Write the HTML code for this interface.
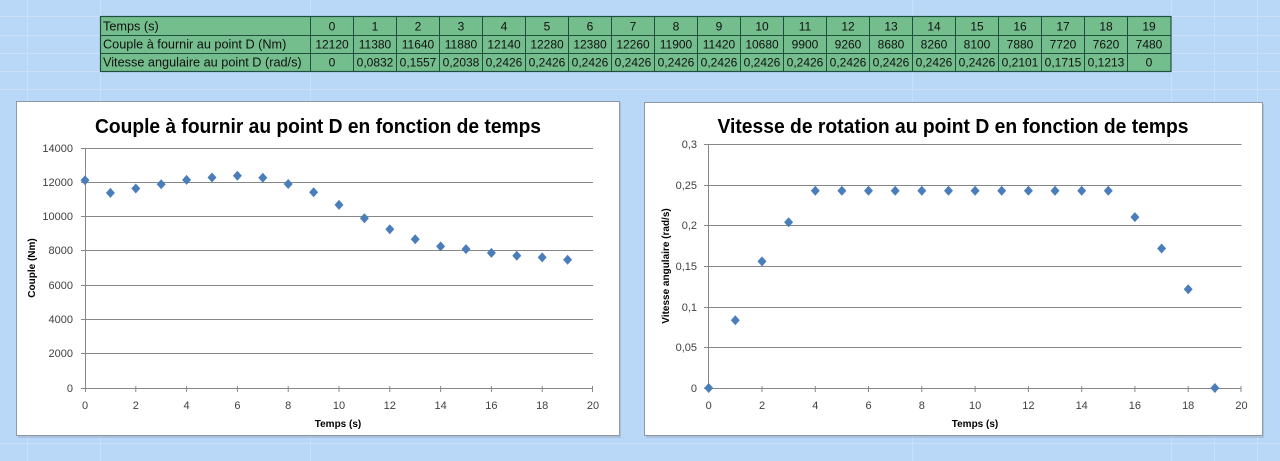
<!DOCTYPE html>
<html><head><meta charset="utf-8">
<style>
html,body{margin:0;padding:0;background:#b9d7f7;}
svg{display:block;}
text{font-family:"Liberation Sans",sans-serif;}
</style></head>
<body>
<svg width="1280" height="461" viewBox="0 0 1280 461" xmlns="http://www.w3.org/2000/svg">
<rect x="0" y="0" width="1280" height="461" fill="#b9d7f7"/>
<!-- background sheet grid -->
<g stroke="#c9e0f8" stroke-width="1">
<line x1="27.5" y1="0" x2="27.5" y2="461"/><line x1="100.5" y1="0" x2="100.5" y2="461"/>
<line x1="310.5" y1="0" x2="310.5" y2="461"/><line x1="912.5" y1="0" x2="912.5" y2="461"/>
<line x1="1171.5" y1="0" x2="1171.5" y2="461"/><line x1="1214.5" y1="0" x2="1214.5" y2="461"/><line x1="1257.5" y1="0" x2="1257.5" y2="461"/>
<line x1="0" y1="-0.5" x2="1280" y2="-0.5"/><line x1="0" y1="16.5" x2="1280" y2="16.5"/>
<line x1="0" y1="35.5" x2="1280" y2="35.5"/><line x1="0" y1="53.5" x2="1280" y2="53.5"/>
<line x1="0" y1="71.5" x2="1280" y2="71.5"/><line x1="0" y1="89.5" x2="1280" y2="89.5"/>
<line x1="0" y1="443.5" x2="1280" y2="443.5"/>
</g>

<!-- table -->
<rect x="100.5" y="16.5" width="1070.5" height="55" fill="#74bd8d" stroke="#1f4f3f" stroke-width="1.2"/>
<g stroke="#1f4f3f" stroke-width="1">
<line x1="100.5" y1="35.5" x2="1171" y2="35.5"/>
<line x1="100.5" y1="53.5" x2="1171" y2="53.5"/>
<line x1="310.5" y1="16.5" x2="310.5" y2="71.5"/>
<line x1="353.5" y1="16.5" x2="353.5" y2="71.5"/>
<line x1="396.5" y1="16.5" x2="396.5" y2="71.5"/>
<line x1="439.5" y1="16.5" x2="439.5" y2="71.5"/>
<line x1="482.5" y1="16.5" x2="482.5" y2="71.5"/>
<line x1="525.5" y1="16.5" x2="525.5" y2="71.5"/>
<line x1="568.5" y1="16.5" x2="568.5" y2="71.5"/>
<line x1="611.5" y1="16.5" x2="611.5" y2="71.5"/>
<line x1="654.5" y1="16.5" x2="654.5" y2="71.5"/>
<line x1="697.5" y1="16.5" x2="697.5" y2="71.5"/>
<line x1="740.5" y1="16.5" x2="740.5" y2="71.5"/>
<line x1="783.5" y1="16.5" x2="783.5" y2="71.5"/>
<line x1="826.5" y1="16.5" x2="826.5" y2="71.5"/>
<line x1="869.5" y1="16.5" x2="869.5" y2="71.5"/>
<line x1="912.5" y1="16.5" x2="912.5" y2="71.5"/>
<line x1="955.5" y1="16.5" x2="955.5" y2="71.5"/>
<line x1="998.5" y1="16.5" x2="998.5" y2="71.5"/>
<line x1="1041.5" y1="16.5" x2="1041.5" y2="71.5"/>
<line x1="1084.5" y1="16.5" x2="1084.5" y2="71.5"/>
<line x1="1127.5" y1="16.5" x2="1127.5" y2="71.5"/>
</g>
<g font-size="12.7" fill="#111">
<text x="103" y="30.5">Temps (s)</text>
<text x="103" y="48.5">Couple à fournir au point D (Nm)</text>
<text x="103" y="66.5">Vitesse angulaire au point D (rad/s)</text>
</g>
<g font-size="12" fill="#111" text-anchor="middle">
<text x="332" y="30.5">0</text><text x="375" y="30.5">1</text><text x="418" y="30.5">2</text><text x="461" y="30.5">3</text><text x="504" y="30.5">4</text><text x="547" y="30.5">5</text><text x="590" y="30.5">6</text><text x="633" y="30.5">7</text><text x="676" y="30.5">8</text><text x="719" y="30.5">9</text><text x="762" y="30.5">10</text><text x="805" y="30.5">11</text><text x="848" y="30.5">12</text><text x="891" y="30.5">13</text><text x="934" y="30.5">14</text><text x="977" y="30.5">15</text><text x="1020" y="30.5">16</text><text x="1063" y="30.5">17</text><text x="1106" y="30.5">18</text><text x="1149" y="30.5">19</text>
<text x="332" y="48.5">12120</text><text x="375" y="48.5">11380</text><text x="418" y="48.5">11640</text><text x="461" y="48.5">11880</text><text x="504" y="48.5">12140</text><text x="547" y="48.5">12280</text><text x="590" y="48.5">12380</text><text x="633" y="48.5">12260</text><text x="676" y="48.5">11900</text><text x="719" y="48.5">11420</text><text x="762" y="48.5">10680</text><text x="805" y="48.5">9900</text><text x="848" y="48.5">9260</text><text x="891" y="48.5">8680</text><text x="934" y="48.5">8260</text><text x="977" y="48.5">8100</text><text x="1020" y="48.5">7880</text><text x="1063" y="48.5">7720</text><text x="1106" y="48.5">7620</text><text x="1149" y="48.5">7480</text>
<text x="332" y="66.5">0</text><text x="375" y="66.5">0,0832</text><text x="418" y="66.5">0,1557</text><text x="461" y="66.5">0,2038</text><text x="504" y="66.5">0,2426</text><text x="547" y="66.5">0,2426</text><text x="590" y="66.5">0,2426</text><text x="633" y="66.5">0,2426</text><text x="676" y="66.5">0,2426</text><text x="719" y="66.5">0,2426</text><text x="762" y="66.5">0,2426</text><text x="805" y="66.5">0,2426</text><text x="848" y="66.5">0,2426</text><text x="891" y="66.5">0,2426</text><text x="934" y="66.5">0,2426</text><text x="977" y="66.5">0,2426</text><text x="1020" y="66.5">0,2101</text><text x="1063" y="66.5">0,1715</text><text x="1106" y="66.5">0,1213</text><text x="1149" y="66.5">0</text>
</g>

<!-- LEFT CHART -->
<rect x="18" y="103" width="603" height="335" fill="#9fb3c8" opacity="0.6"/>
<rect x="16.5" y="101.5" width="603" height="334" fill="#ffffff" stroke="#8d98a6" stroke-width="1"/>
<text x="318" y="133" font-size="20" font-weight="bold" fill="#000" text-anchor="middle" textLength="446" lengthAdjust="spacingAndGlyphs">Couple à fournir au point D en fonction de temps</text>
<g stroke="#878787" stroke-width="1">
<line x1="85" y1="148.5" x2="593" y2="148.5"/>
<line x1="85" y1="182.5" x2="593" y2="182.5"/>
<line x1="85" y1="216.5" x2="593" y2="216.5"/>
<line x1="85" y1="250.5" x2="593" y2="250.5"/>
<line x1="85" y1="285.5" x2="593" y2="285.5"/>
<line x1="85" y1="319.5" x2="593" y2="319.5"/>
<line x1="85" y1="353.5" x2="593" y2="353.5"/>
<line x1="85" y1="388.5" x2="593" y2="388.5"/>
<line x1="85.5" y1="148" x2="85.5" y2="388"/>
<line x1="81" y1="148.5" x2="85" y2="148.5"/><line x1="81" y1="182.5" x2="85" y2="182.5"/><line x1="81" y1="216.5" x2="85" y2="216.5"/><line x1="81" y1="250.5" x2="85" y2="250.5"/><line x1="81" y1="285.5" x2="85" y2="285.5"/><line x1="81" y1="319.5" x2="85" y2="319.5"/><line x1="81" y1="353.5" x2="85" y2="353.5"/><line x1="81" y1="388.5" x2="85" y2="388.5"/>
<line x1="85.5" y1="386" x2="85.5" y2="392"/><line x1="135.8" y1="386" x2="135.8" y2="392"/><line x1="186.6" y1="386" x2="186.6" y2="392"/><line x1="237.4" y1="386" x2="237.4" y2="392"/><line x1="288.2" y1="386" x2="288.2" y2="392"/><line x1="339" y1="386" x2="339" y2="392"/><line x1="389.8" y1="386" x2="389.8" y2="392"/><line x1="440.6" y1="386" x2="440.6" y2="392"/><line x1="491.4" y1="386" x2="491.4" y2="392"/><line x1="542.2" y1="386" x2="542.2" y2="392"/><line x1="592.5" y1="386" x2="592.5" y2="392"/>
</g>
<g font-size="11" fill="#404040" text-anchor="end">
<text x="73" y="152">14000</text><text x="73" y="186">12000</text><text x="73" y="220">10000</text><text x="73" y="254">8000</text><text x="73" y="289">6000</text><text x="73" y="323">4000</text><text x="73" y="357">2000</text><text x="73" y="392">0</text>
</g>
<g font-size="11" fill="#404040" text-anchor="middle">
<text x="85" y="409">0</text><text x="135.8" y="409">2</text><text x="186.6" y="409">4</text><text x="237.4" y="409">6</text><text x="288.2" y="409">8</text><text x="339" y="409">10</text><text x="389.8" y="409">12</text><text x="440.6" y="409">14</text><text x="491.4" y="409">16</text><text x="542.2" y="409">18</text><text x="593" y="409">20</text>
</g>
<text x="338" y="427" font-size="10" font-weight="bold" fill="#000" text-anchor="middle">Temps (s)</text>
<text transform="translate(35,268) rotate(-90)" font-size="10" font-weight="bold" fill="#000" text-anchor="middle">Couple (Nm)</text>
<g fill="#4a7ebb">
<path d="M85 175.2l4.5 5 -4.5 5 -4.5 -5z"/>
<path d="M110.4 187.9l4.5 5 -4.5 5 -4.5 -5z"/>
<path d="M135.8 183.5l4.5 5 -4.5 5 -4.5 -5z"/>
<path d="M161.2 179.3l4.5 5 -4.5 5 -4.5 -5z"/>
<path d="M186.6 174.9l4.5 5 -4.5 5 -4.5 -5z"/>
<path d="M212 172.5l4.5 5 -4.5 5 -4.5 -5z"/>
<path d="M237.4 170.8l4.5 5 -4.5 5 -4.5 -5z"/>
<path d="M262.8 172.8l4.5 5 -4.5 5 -4.5 -5z"/>
<path d="M288.2 179l4.5 5 -4.5 5 -4.5 -5z"/>
<path d="M313.6 187.2l4.5 5 -4.5 5 -4.5 -5z"/>
<path d="M339 199.9l4.5 5 -4.5 5 -4.5 -5z"/>
<path d="M364.4 213.3l4.5 5 -4.5 5 -4.5 -5z"/>
<path d="M389.8 224.3l4.5 5 -4.5 5 -4.5 -5z"/>
<path d="M415.2 234.2l4.5 5 -4.5 5 -4.5 -5z"/>
<path d="M440.6 241.4l4.5 5 -4.5 5 -4.5 -5z"/>
<path d="M466 244.1l4.5 5 -4.5 5 -4.5 -5z"/>
<path d="M491.4 247.9l4.5 5 -4.5 5 -4.5 -5z"/>
<path d="M516.8 250.7l4.5 5 -4.5 5 -4.5 -5z"/>
<path d="M542.2 252.4l4.5 5 -4.5 5 -4.5 -5z"/>
<path d="M567.6 254.8l4.5 5 -4.5 5 -4.5 -5z"/>
</g>

<!-- RIGHT CHART -->
<rect x="646" y="104" width="618" height="334" fill="#9fb3c8" opacity="0.6"/>
<rect x="644.5" y="102.5" width="618" height="333" fill="#ffffff" stroke="#8d98a6" stroke-width="1"/>
<text x="953" y="133" font-size="20" font-weight="bold" fill="#000" text-anchor="middle" textLength="471" lengthAdjust="spacingAndGlyphs">Vitesse de rotation au point D en fonction de temps</text>
<g stroke="#878787" stroke-width="1">
<line x1="708.7" y1="144.5" x2="1241.5" y2="144.5"/>
<line x1="708.7" y1="185.5" x2="1241.5" y2="185.5"/>
<line x1="708.7" y1="225.5" x2="1241.5" y2="225.5"/>
<line x1="708.7" y1="266.5" x2="1241.5" y2="266.5"/>
<line x1="708.7" y1="307.5" x2="1241.5" y2="307.5"/>
<line x1="708.7" y1="347.5" x2="1241.5" y2="347.5"/>
<line x1="708.7" y1="388.5" x2="1241.5" y2="388.5"/>
<line x1="708.5" y1="144" x2="708.5" y2="388"/>
<line x1="704" y1="144.5" x2="708" y2="144.5"/><line x1="704" y1="185.5" x2="708" y2="185.5"/><line x1="704" y1="225.5" x2="708" y2="225.5"/><line x1="704" y1="266.5" x2="708" y2="266.5"/><line x1="704" y1="307.5" x2="708" y2="307.5"/><line x1="704" y1="347.5" x2="708" y2="347.5"/><line x1="704" y1="388.5" x2="708" y2="388.5"/>
<line x1="708.5" y1="386" x2="708.5" y2="392"/><line x1="762" y1="386" x2="762" y2="392"/><line x1="815.3" y1="386" x2="815.3" y2="392"/><line x1="868.5" y1="386" x2="868.5" y2="392"/><line x1="921.8" y1="386" x2="921.8" y2="392"/><line x1="975.1" y1="386" x2="975.1" y2="392"/><line x1="1028.4" y1="386" x2="1028.4" y2="392"/><line x1="1081.7" y1="386" x2="1081.7" y2="392"/><line x1="1134.9" y1="386" x2="1134.9" y2="392"/><line x1="1188.2" y1="386" x2="1188.2" y2="392"/><line x1="1241" y1="386" x2="1241" y2="392"/>
</g>
<g font-size="11" fill="#404040" text-anchor="end">
<text x="697" y="148">0,3</text><text x="697" y="189">0,25</text><text x="697" y="229">0,2</text><text x="697" y="270">0,15</text><text x="697" y="311">0,1</text><text x="697" y="351">0,05</text><text x="697" y="392">0</text>
</g>
<g font-size="11" fill="#404040" text-anchor="middle">
<text x="708.7" y="409">0</text><text x="762" y="409">2</text><text x="815.3" y="409">4</text><text x="868.5" y="409">6</text><text x="921.8" y="409">8</text><text x="975.1" y="409">10</text><text x="1028.4" y="409">12</text><text x="1081.7" y="409">14</text><text x="1134.9" y="409">16</text><text x="1188.2" y="409">18</text><text x="1241.5" y="409">20</text>
</g>
<text x="975" y="427" font-size="10" font-weight="bold" fill="#000" text-anchor="middle">Temps (s)</text>
<text transform="translate(669,266) rotate(-90)" font-size="10" font-weight="bold" fill="#000" text-anchor="middle">Vitesse angulaire (rad/s)</text>
<g fill="#4a7ebb">
<path d="M708.7 383l4.5 5 -4.5 5 -4.5 -5z"/>
<path d="M735.3 315.3l4.5 5 -4.5 5 -4.5 -5z"/>
<path d="M762 256.4l4.5 5 -4.5 5 -4.5 -5z"/>
<path d="M788.6 217.2l4.5 5 -4.5 5 -4.5 -5z"/>
<path d="M815.3 185.7l4.5 5 -4.5 5 -4.5 -5z"/>
<path d="M841.9 185.7l4.5 5 -4.5 5 -4.5 -5z"/>
<path d="M868.5 185.7l4.5 5 -4.5 5 -4.5 -5z"/>
<path d="M895.2 185.7l4.5 5 -4.5 5 -4.5 -5z"/>
<path d="M921.8 185.7l4.5 5 -4.5 5 -4.5 -5z"/>
<path d="M948.5 185.7l4.5 5 -4.5 5 -4.5 -5z"/>
<path d="M975.1 185.7l4.5 5 -4.5 5 -4.5 -5z"/>
<path d="M1001.7 185.7l4.5 5 -4.5 5 -4.5 -5z"/>
<path d="M1028.4 185.7l4.5 5 -4.5 5 -4.5 -5z"/>
<path d="M1055 185.7l4.5 5 -4.5 5 -4.5 -5z"/>
<path d="M1081.7 185.7l4.5 5 -4.5 5 -4.5 -5z"/>
<path d="M1108.3 185.7l4.5 5 -4.5 5 -4.5 -5z"/>
<path d="M1134.9 212.1l4.5 5 -4.5 5 -4.5 -5z"/>
<path d="M1161.6 243.5l4.5 5 -4.5 5 -4.5 -5z"/>
<path d="M1188.2 284.3l4.5 5 -4.5 5 -4.5 -5z"/>
<path d="M1214.9 383l4.5 5 -4.5 5 -4.5 -5z"/>
</g>
</svg>
</body></html>
